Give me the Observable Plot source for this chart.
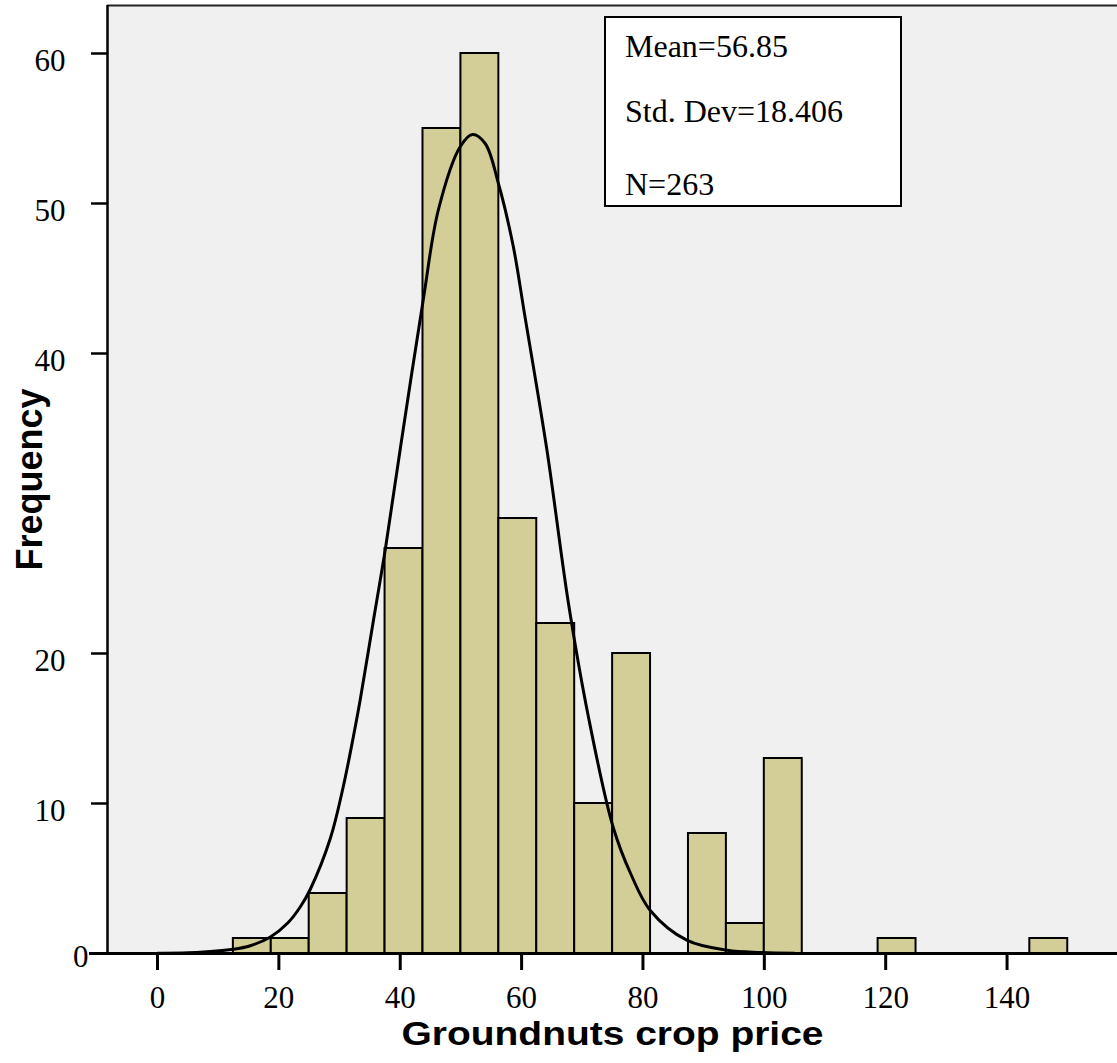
<!DOCTYPE html>
<html><head><meta charset="utf-8">
<script src="https://cdn.jsdelivr.net/npm/d3@7"></script>
<script src="https://cdn.jsdelivr.net/npm/@observablehq/plot@0.6"></script>
<style>
body{margin:0;background:#fff;}
#wrap{position:relative;width:1117px;height:1063px;}
#stats{position:absolute;left:604px;top:16px;}
</style></head><body><div id="wrap"></div>
<script>
// Histogram bins (price) and frequencies
const binEdges = [12.5, 18.75, 25, 31.25, 37.5, 43.75, 50, 56.25, 62.5, 68.75, 75, 81.25, 87.5, 93.75, 100, 106.25, 112.5, 118.75, 125, 131.25, 137.5, 143.75, 150];
const counts   = [1, 1, 4, 9, 27, 55, 60, 29, 22, 10, 20, 0, 8, 2, 13, 0, 0, 1, 0, 0, 0, 1];
// Normal curve
const curveX = [0, 7, 12.5, 15.3, 18.6, 21.5, 23.6, 25.2, 28.5, 30.6, 32.3, 33.4, 35.5, 37.6, 40.4, 43.8, 46.3, 49.9, 51.9, 54.0, 56.2, 58.6, 60.5, 64.2, 67.7, 71.0, 75.1, 78, 81.2, 87.3, 93.9, 99.3, 105];
const curveY = [0.01, 0.08, 0.28, 0.52, 1.1, 2.05, 3.15, 4.3, 7.7, 11.1, 14.5, 16.9, 22, 27.1, 34.7, 43.6, 49.6, 53.8, 54.6, 54.0, 51.3, 47.2, 42.6, 33.5, 23.4, 15.8, 8.4, 5.3, 2.87, 0.87, 0.22, 0.07, 0.02];
const xTicks = [0, 20, 40, 60, 80, 100, 120, 140];
const yTicks = [0, 10, 20, 40, 50, 60];
const stats = ["Mean=56.85", "Std. Dev=18.406", "N=263"];
const xTitle = "Groundnuts crop price";
const yTitle = "Frequency";
const xDomain = [-8.24, 158.2];
const yDomain = [0, 63.2];

const bins = counts.map((c, i) => ({x1: binEdges[i], x2: binEdges[i + 1], y: c})).filter(d => d.y > 0);
const curve = curveX.map((x, i) => ({x, y: curveY[i]}));

const chart = Plot.plot({
  width: 1117, height: 1063,
  marginLeft: 107, marginRight: 0, marginTop: 5, marginBottom: 110,
  x: {domain: xDomain},
  y: {domain: yDomain},
  style: {background: "white", color: "black", fontFamily: "'Liberation Serif', 'Times New Roman', serif"},
  marks: [
    Plot.frame({fill: "#f0f0f0", stroke: null}),
    Plot.rectY(bins, {x1: "x1", x2: "x2", y: "y", fill: "#d3ce98", stroke: "black", strokeWidth: 2}),
    Plot.line(curve, {x: "x", y: "y", stroke: "black", strokeWidth: 3, curve: "catmull-rom"}),
    Plot.ruleY([yDomain[1]], {stroke: "#222", strokeWidth: 2}),
    Plot.ruleX([xDomain[0]], {stroke: "black", strokeWidth: 2.5}),
    Plot.ruleY([0], {stroke: "black", strokeWidth: 3, insetLeft: -18}),
    Plot.axisX({ticks: xTicks, tickSize: 17, tickPadding: 15, fontSize: 31, strokeWidth: 3, label: null, tickFormat: d => d}),
    Plot.axisY({ticks: yTicks, tickSize: 16, strokeWidth: 2.5, label: null, tickFormat: () => ""}),
    Plot.axisY({ticks: yTicks.filter(d => d !== 0), tickSize: 0, tickPadding: 42, fontSize: 31, dy: 8, label: null, tickFormat: d => d}),
    Plot.axisY({ticks: yTicks.filter(d => d === 0), tickSize: 0, tickPadding: 19, fontSize: 31, dy: 4, label: null, tickFormat: d => d}),
    Plot.text([xTitle], {frameAnchor: "bottom", dy: 91, fontSize: 34, fontWeight: "bold", fontFamily: "'Liberation Sans', Arial, sans-serif"}),
    Plot.text([yTitle], {frameAnchor: "left", dx: -77, rotate: -90, textAnchor: "middle", fontSize: 36, fontWeight: "bold", fontFamily: "'Liberation Sans', Arial, sans-serif"})
  ]
});
const wrap = document.getElementById("wrap");
wrap.appendChild(chart);

// The x title in the reference is drawn wider than its height suggests
d3.select(chart).selectAll("text")
  .filter(function() { return this.textContent === xTitle; })
  .attr("textLength", 422).attr("lengthAdjust", "spacingAndGlyphs");

// Statistics box (legend-like overlay)
const box = d3.select(wrap).append("svg").attr("id", "stats").attr("width", 300).attr("height", 193);
box.append("rect").attr("x", 1).attr("y", 1).attr("width", 296).attr("height", 189)
  .attr("fill", "white").attr("stroke", "black").attr("stroke-width", 2);
const baselines = [41, 106, 179];
box.selectAll("text").data(stats).join("text")
  .attr("x", 21).attr("y", (d, i) => baselines[i])
  .attr("font-family", "'Liberation Serif', 'Times New Roman', serif")
  .attr("font-size", 32).attr("fill", "black")
  .text(d => d);
</script></body></html>
